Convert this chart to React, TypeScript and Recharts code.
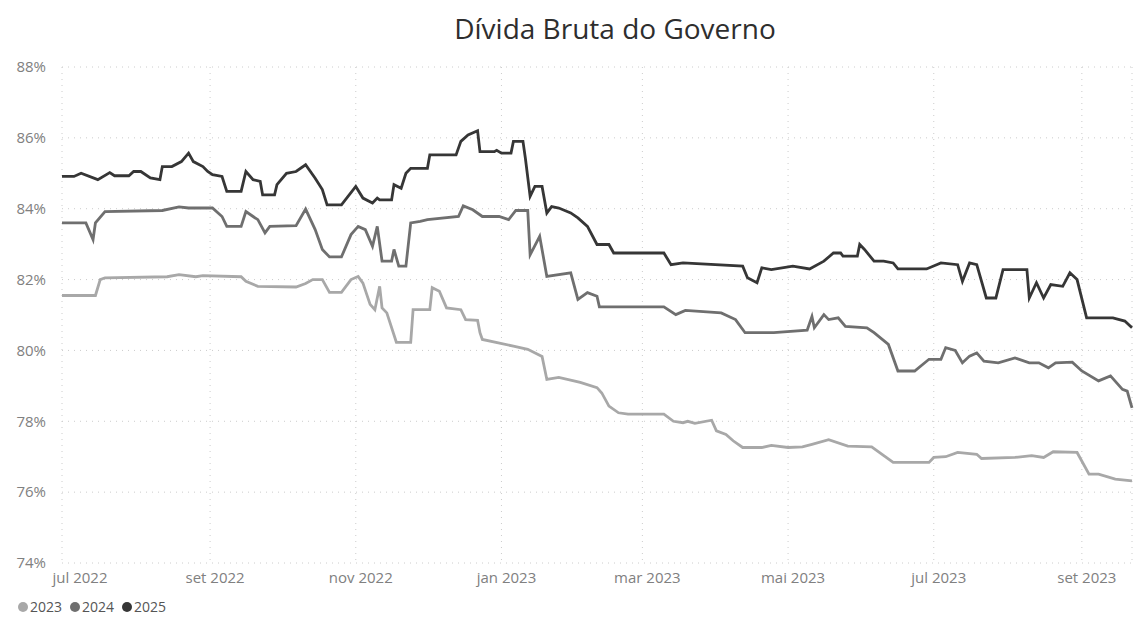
import { LineChart, Line, XAxis, YAxis, CartesianGrid } from "recharts";

// dias desde 01/07/2022, dívida bruta projetada (% do PIB)
const serie2023: [number, number][] = [
  [0, 81.55], [14, 81.55], [16, 82.0], [18, 82.05], [44, 82.08], [49, 82.14], [56, 82.08],
  [59, 82.11], [75, 82.08], [77, 81.95], [82, 81.81], [98, 81.79], [102, 81.89], [105, 82.0],
  [109, 82.0], [112, 81.64], [117, 81.64], [121, 82.0], [124, 82.09], [126, 81.9], [129, 81.3],
  [131, 81.15], [133, 81.81], [134, 81.2], [136, 81.06], [140, 80.23], [146, 80.23], [147, 81.15],
  [154, 81.15], [155, 81.77], [158, 81.67], [161, 81.2], [167, 81.15], [169, 80.87], [174, 80.85],
  [175, 80.5], [176, 80.31], [189, 80.12], [195, 80.03], [201, 79.83], [203, 79.18], [208, 79.24],
  [217, 79.1], [224, 78.95], [226, 78.8], [229, 78.43], [233, 78.24], [237, 78.2], [252, 78.2],
  [256, 78.0], [260, 77.96], [262, 78.0], [265, 77.94], [272, 78.03], [274, 77.73], [278, 77.63],
  [281, 77.45], [285, 77.26], [293, 77.26], [297, 77.32], [304, 77.26], [310, 77.28], [314, 77.35],
  [321, 77.48], [329, 77.3], [339, 77.28], [348, 76.84], [363, 76.84], [365, 76.98], [370, 77.0],
  [375, 77.12], [383, 77.07], [385, 76.95], [399, 76.98], [406, 77.03], [411, 76.98], [415, 77.14],
  [425, 77.12], [430, 76.51], [434, 76.51], [441, 76.37], [448, 76.32],
];

const serie2024: [number, number][] = [
  [0, 83.6], [10, 83.6], [13, 83.13], [14, 83.6], [18, 83.92], [42, 83.95], [49, 84.05],
  [53, 84.02], [63, 84.02], [67, 83.78], [69, 83.5], [75, 83.5], [77, 83.92], [80, 83.78],
  [82, 83.69], [85, 83.32], [87, 83.5], [98, 83.52], [102, 83.99], [106, 83.41], [109, 82.85],
  [112, 82.64], [117, 82.64], [121, 83.27], [124, 83.5], [127, 83.41], [130, 82.94], [132, 83.5],
  [134, 82.52], [138, 82.52], [139, 82.85], [141, 82.38], [144, 82.38], [146, 83.6], [150, 83.64],
  [153, 83.69], [166, 83.78], [168, 84.08], [172, 83.97], [176, 83.78], [183, 83.78], [187, 83.69],
  [190, 83.95], [195, 83.95], [196, 82.7], [200, 83.22], [203, 82.09], [213, 82.19], [216, 81.44],
  [220, 81.63], [224, 81.53], [225, 81.23], [252, 81.23], [257, 81.01], [261, 81.13], [276, 81.06],
  [282, 80.87], [286, 80.5], [298, 80.5], [312, 80.57], [314, 80.96], [315, 80.64], [319, 81.01],
  [321, 80.87], [325, 80.92], [328, 80.68], [337, 80.64], [340, 80.5], [346, 80.17], [350, 79.42],
  [357, 79.42], [363, 79.75], [368, 79.75], [370, 80.08], [374, 80.0], [377, 79.65], [380, 79.84],
  [383, 79.93], [386, 79.7], [392, 79.65], [399, 79.79], [405, 79.65], [409, 79.65], [413, 79.51],
  [416, 79.65], [423, 79.67], [427, 79.42], [434, 79.14], [439, 79.28], [444, 78.9], [446, 78.85],
  [448, 78.38],
];

const serie2025: [number, number][] = [
  [0, 84.91], [5, 84.91], [8, 85.0], [15, 84.82], [20, 85.02], [22, 84.93], [28, 84.93],
  [30, 85.05], [33, 85.05], [37, 84.87], [41, 84.82], [42, 85.19], [46, 85.19], [50, 85.33],
  [53, 85.57], [55, 85.33], [59, 85.19], [61, 85.05], [63, 84.96], [67, 84.91], [69, 84.49],
  [75, 84.49], [77, 85.05], [80, 84.82], [83, 84.77], [84, 84.39], [89, 84.39], [90, 84.68],
  [94, 85.0], [98, 85.05], [102, 85.24], [106, 84.86], [109, 84.54], [111, 84.11], [117, 84.11],
  [123, 84.63], [126, 84.3], [130, 84.16], [132, 84.3], [133, 84.25], [138, 84.25], [139, 84.68],
  [142, 84.58], [144, 85.0], [146, 85.14], [153, 85.14], [154, 85.52], [165, 85.52], [167, 85.9],
  [170, 86.08], [174, 86.2], [175, 85.61], [181, 85.61], [182, 85.65], [184, 85.57], [188, 85.57],
  [189, 85.9], [193, 85.9], [194, 85.43], [196, 84.35], [198, 84.63], [201, 84.63], [203, 83.88],
  [205, 84.06], [208, 84.02], [213, 83.88], [216, 83.74], [220, 83.5], [224, 82.99], [229, 82.99],
  [231, 82.75], [252, 82.75], [255, 82.42], [260, 82.47], [285, 82.38], [287, 82.05], [291, 81.91],
  [293, 82.33], [297, 82.28], [306, 82.38], [313, 82.3], [319, 82.52], [323, 82.75], [326, 82.75],
  [327, 82.66], [333, 82.66], [334, 82.99], [336, 82.85], [340, 82.52], [344, 82.52], [348, 82.47],
  [350, 82.3], [362, 82.3], [368, 82.47], [375, 82.42], [377, 81.95], [380, 82.47], [383, 82.42],
  [387, 81.48], [391, 81.48], [394, 82.28], [404, 82.28], [405, 81.48], [408, 81.91], [411, 81.48],
  [414, 81.86], [419, 81.81], [422, 82.19], [425, 82.0], [429, 80.92], [440, 80.92], [445, 80.83],
  [448, 80.64],
];

const tickDias = [0, 62, 123, 184, 243, 304, 365, 427];
const tickMeses = ["jul 2022", "set 2022", "nov 2022", "jan 2023", "mar 2023", "mai 2023", "jul 2023", "set 2023"];
const tickPct = [74, 76, 78, 80, 82, 84, 86, 88];

const series = [
  { nome: "2023", cor: "#a8a8a8", pontos: serie2023 },
  { nome: "2024", cor: "#6f6f6f", pontos: serie2024 },
  { nome: "2025", cor: "#363636", pontos: serie2025 },
];

const fonte = "'Open Sans', 'Noto Sans', sans-serif";

function MesTick({ x, y, payload }: any) {
  const i = tickDias.indexOf(payload.value);
  return (
    <text
      x={x + (i === 0 ? 18 : 5)}
      y={y}
      dy={14}
      textAnchor="middle"
      fill="#808080"
      fontSize={15}
      fontFamily={fonte}
    >
      {tickMeses[i]}
    </text>
  );
}

export default function App() {
  return (
    <div style={{ position: "relative", width: 1136, height: 622, background: "#fff", fontFamily: fonte }}>
      <style>{"body{margin:0}"}</style>
      <div
        style={{
          position: "absolute",
          top: 9,
          left: 94,
          width: 1042,
          textAlign: "center",
          fontSize: 28,
          color: "#2e2e2e",
        }}
      >
        Dívida Bruta do Governo
      </div>
      <LineChart width={1136} height={622} margin={{ top: 67, right: 4, bottom: 29, left: 0 }}>
        <CartesianGrid stroke="#cccccc" strokeDasharray="1 5" />
        <XAxis
          dataKey="d"
          type="number"
          domain={[0, 448]}
          ticks={tickDias}
          tick={<MesTick />}
          tickLine={false}
          axisLine={false}
          tickSize={0}
          tickMargin={6}
          height={30}
          allowDuplicatedCategory={false}
        />
        <YAxis
          type="number"
          domain={[74, 88]}
          ticks={tickPct}
          tickFormatter={(v: number) => `${v}%`}
          width={62}
          tickLine={false}
          axisLine={false}
          tickSize={0}
          tickMargin={16}
          tick={{ fontSize: 15, fill: "#808080", fontFamily: fonte }}
        />
        {series.map((s) => (
          <Line
            key={s.nome}
            data={s.pontos.map(([d, v]) => ({ d, v }))}
            dataKey="v"
            name={s.nome}
            type="linear"
            stroke={s.cor}
            strokeWidth={2.8}
            dot={false}
            activeDot={false}
            isAnimationActive={false}
          />
        ))}
      </LineChart>
      <div
        style={{
          position: "absolute",
          left: 18,
          top: 597,
          display: "flex",
          gap: 8,
          fontSize: 14,
          color: "#555",
        }}
      >
        {series.map((s) => (
          <span key={s.nome} style={{ display: "flex", alignItems: "center", gap: 2 }}>
            <span style={{ width: 10, height: 10, borderRadius: "50%", background: s.cor, display: "inline-block" }} />
            {s.nome}
          </span>
        ))}
      </div>
    </div>
  );
}
